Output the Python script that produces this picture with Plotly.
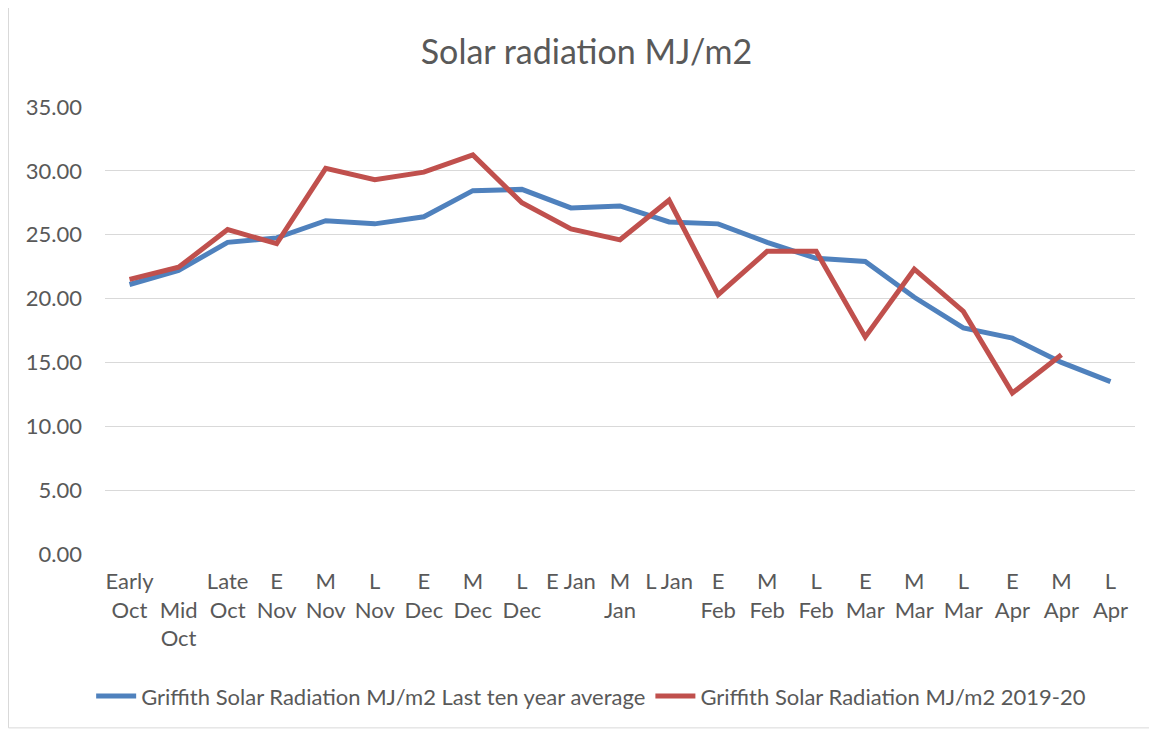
import plotly.graph_objects as go

categories = ["Early Oct", "Mid Oct", "Late Oct", "E Nov", "M Nov", "L Nov", "E Dec", "M Dec", "L Dec",
              "E Jan", "M Jan", "L Jan", "E Feb", "M Feb", "L Feb", "E Mar", "M Mar", "L Mar",
              "E Apr", "M Apr", "L Apr"]
tick_labels = ["Early<br>Oct", " <br>Mid<br>Oct", "Late<br>Oct", "E<br>Nov", "M<br>Nov", "L<br>Nov",
               "E<br>Dec", "M<br>Dec", "L<br>Dec", "E Jan", "M<br>Jan", "L Jan", "E<br>Feb", "M<br>Feb",
               "L<br>Feb", "E<br>Mar", "M<br>Mar", "L<br>Mar", "E<br>Apr", "M<br>Apr", "L<br>Apr"]
avg_10yr = [21.1, 22.2, 24.4, 24.75, 26.1, 25.85, 26.4, 28.45, 28.55, 27.1, 27.25, 26.0, 25.85,
            24.4, 23.15, 22.9, 20.1, 17.7, 16.9, 15.0, 13.5]
season_2019_20 = [21.5, 22.45, 25.4, 24.3, 30.2, 29.3, 29.9, 31.25, 27.5, 25.45, 24.6, 27.7, 20.3,
                  23.7, 23.7, 17.0, 22.3, 19.0, 12.6, 15.6, None]

FONT = "Lato, 'Open Sans', sans-serif"
GREY = "#595959"

fig = go.Figure()
fig.add_trace(go.Scatter(x=categories, y=avg_10yr, mode="lines",
                         name="Griffith Solar Radiation MJ/m2 Last ten year average",
                         line=dict(color="#4f81bd", width=5)))
fig.add_trace(go.Scatter(x=categories, y=season_2019_20, mode="lines",
                         name="Griffith Solar Radiation MJ/m2 2019-20",
                         line=dict(color="#c0504d", width=5)))

fig.update_layout(
    width=1157, height=731,
    margin=dict(l=97, r=30, t=99, b=185),
    paper_bgcolor="white", plot_bgcolor="white",
    font=dict(family=FONT, color=GREY, size=22),
    title=dict(text="Solar radiation MJ/m2", x=0.5, xanchor="center", y=0.94, yanchor="middle",
               font=dict(size=34, color=GREY, family=FONT)),
    showlegend=True,
    legend=dict(orientation="h", x=0.472, xanchor="center", y=-0.318, yanchor="middle",
                font=dict(size=22, color=GREY), itemwidth=40),
    shapes=[dict(type="rect", xref="paper", yref="paper", x0=-0.0937, x1=1.0204, y0=-0.389, y1=1.25,
                 line=dict(color="#d9d9d9", width=1), fillcolor="rgba(0,0,0,0)", layer="below")],
)
fig.update_xaxes(type="category", range=[-0.5, 20.5], tickmode="array", tickvals=categories,
                 ticktext=tick_labels, showgrid=False, zeroline=False, showline=False,
                 ticks="", ticklabelstandoff=12, tickfont=dict(size=22, color=GREY))
fig.update_yaxes(range=[0, 35], dtick=5, tickformat=".2f", showgrid=True, gridcolor="#d9d9d9",
                 gridwidth=1, zeroline=False, showline=False, ticks="", ticklabelstandoff=22,
                 tickfont=dict(size=22, color=GREY))

fig.write_html("out.html")
